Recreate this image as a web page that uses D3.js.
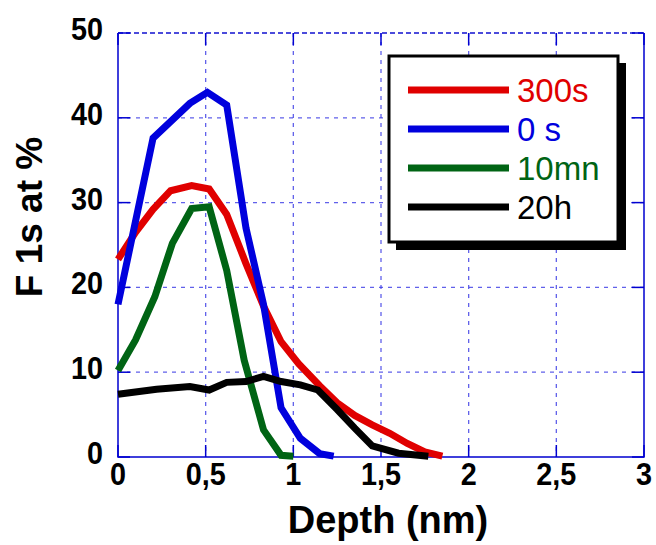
<!DOCTYPE html>
<html><head><meta charset="utf-8">
<script src="https://cdn.jsdelivr.net/npm/d3@7"></script>
<style>body{margin:0;background:#fff}svg{display:block}</style>
</head><body>
<script>
const xTicks = [0, 0.5, 1, 1.5, 2, 2.5, 3];
const xTickLabels = ["0", "0,5", "1", "1,5", "2", "2,5", "3"];
const yTicks = [0, 10, 20, 30, 40, 50];
const seriesNames = ["300s", "0 s", "10mn", "20h"];
const seriesColors = ["#e00000", "#0000dd", "#006414", "#000000"];

const red300s = [[0,23.3],[0.1,26.5],[0.2,29.2],[0.3,31.4],[0.42,32.0],[0.52,31.6],[0.62,28.6],[0.73,22.8],[0.83,17.8],[0.93,13.6],[1.03,11.0],[1.15,8.4],[1.25,6.4],[1.35,4.9],[1.45,3.8],[1.55,2.8],[1.65,1.6],[1.75,0.6],[1.85,0.1]];
const blue0s = [[0,18.0],[0.2,37.6],[0.41,41.7],[0.51,43.0],[0.62,41.5],[0.73,27.0],[0.83,18.0],[0.93,5.8],[1.04,2.2],[1.15,0.4],[1.23,0.1]];
const green10mn = [[0,10.2],[0.1,13.8],[0.21,18.9],[0.31,25.2],[0.42,29.3],[0.52,29.5],[0.62,22.0],[0.72,11.4],[0.83,3.2],[0.93,0.2],[1.0,0.1]];
const black20h = [[0,7.4],[0.22,8.0],[0.41,8.3],[0.52,7.9],[0.62,8.8],[0.73,8.9],[0.83,9.5],[0.93,8.9],[1.04,8.5],[1.14,7.9],[1.25,5.6],[1.35,3.4],[1.45,1.3],[1.6,0.45],[1.77,0.1]];
const seriesData = [red300s, blue0s, green10mn, black20h];

const W = 656, H = 545;
const L = 118, R = 644, T = 33, B = 457;
const svg = d3.select("body").append("svg").attr("width", W).attr("height", H);
const x = d3.scaleLinear().domain([0, 3]).range([L, R]);
const y = d3.scaleLinear().domain([0, 50]).range([B, T]);
const font = "'Liberation Sans', Arial, sans-serif";
const gridCol = "#3a3ae6";

// grid
const g = svg.append("g");
g.selectAll(".gx").data(xTicks.slice(1, -1)).join("line")
  .attr("x1", d => x(d)).attr("x2", d => x(d)).attr("y1", T).attr("y2", B)
  .attr("stroke", gridCol).attr("stroke-width", 1.3).attr("stroke-dasharray", "4,5").attr("opacity", 0.8);
g.selectAll(".gy").data(yTicks.slice(1, -1)).join("line")
  .attr("y1", d => y(d)).attr("y2", d => y(d)).attr("x1", L).attr("x2", R)
  .attr("stroke", gridCol).attr("stroke-width", 1.3).attr("stroke-dasharray", "4,5").attr("opacity", 0.8);
g.append("line").attr("x1", L).attr("x2", R).attr("y1", T).attr("y2", T)
  .attr("stroke", "#1010d0").attr("stroke-width", 1.5).attr("stroke-dasharray", "5,3");
g.append("path").attr("d", `M${L},${T}V${B}H${R}V${T}`).attr("fill", "none")
  .attr("stroke", "#0000d0").attr("stroke-width", 1.5);

// inner ticks on all sides
const tl = 12;
const tk = svg.append("g").attr("stroke", "#0000d0").attr("stroke-width", 1.5);
tk.selectAll(".tb").data(xTicks).join("line")
  .attr("x1", d => x(d)).attr("x2", d => x(d)).attr("y1", B).attr("y2", B - tl);
tk.selectAll(".tt").data(xTicks).join("line")
  .attr("x1", d => x(d)).attr("x2", d => x(d)).attr("y1", T).attr("y2", T + tl);
tk.selectAll(".tlf").data(yTicks).join("line")
  .attr("y1", d => y(d)).attr("y2", d => y(d)).attr("x1", L).attr("x2", L + tl);
tk.selectAll(".trt").data(yTicks).join("line")
  .attr("y1", d => y(d)).attr("y2", d => y(d)).attr("x1", R).attr("x2", R - tl);

// tick labels
svg.append("g").selectAll("text").data(xTicks).join("text")
  .attr("transform", d => `translate(${x(d)},485) scale(0.96,1.06)`).attr("text-anchor", "middle")
  .attr("font-family", font).attr("font-weight", "bold").attr("font-size", 30)
  .text((d, i) => xTickLabels[i]);
svg.append("g").selectAll("text").data(yTicks).join("text")
  .attr("transform", d => `translate(103,${y(d) + 7}) scale(0.96,1.06)`).attr("text-anchor", "end")
  .attr("font-family", font).attr("font-weight", "bold").attr("font-size", 30)
  .text(d => d);

// axis titles
svg.append("text").attr("x", 388).attr("y", 533).attr("text-anchor", "middle")
  .attr("font-family", font).attr("font-weight", "bold").attr("font-size", 38)
  .text("Depth (nm)");
svg.append("text").attr("transform", "translate(42,217) rotate(-90)").attr("text-anchor", "middle")
  .attr("font-family", font).attr("font-weight", "bold").attr("font-size", 37)
  .text("F 1s at %");

// lines
const line = d3.line().x(d => x(d[0])).y(d => y(d[1]));
svg.append("g").selectAll("path").data(seriesData).join("path")
  .attr("d", line).attr("fill", "none")
  .attr("stroke", (d, i) => seriesColors[i]).attr("stroke-width", 7)
  .attr("stroke-linejoin", "miter").attr("stroke-linecap", "butt");

// legend
const lg = svg.append("g");
lg.append("rect").attr("x", 396).attr("y", 63).attr("width", 230).attr("height", 187).attr("fill", "#000");
lg.append("rect").attr("x", 389).attr("y", 56).attr("width", 229).attr("height", 186)
  .attr("fill", "#fff").attr("stroke", "#000").attr("stroke-width", 3);
const ly = [90, 129, 168, 207];
lg.selectAll(".ll").data(seriesNames).join("line")
  .attr("x1", 408).attr("x2", 509).attr("y1", (d, i) => ly[i]).attr("y2", (d, i) => ly[i])
  .attr("stroke", (d, i) => seriesColors[i]).attr("stroke-width", 7);
lg.selectAll(".lt").data(seriesNames).join("text")
  .attr("x", 517).attr("y", (d, i) => ly[i] + 12)
  .attr("font-family", font).attr("font-size", 33)
  .attr("fill", (d, i) => seriesColors[i]).text(d => d);
</script>
</body></html>
